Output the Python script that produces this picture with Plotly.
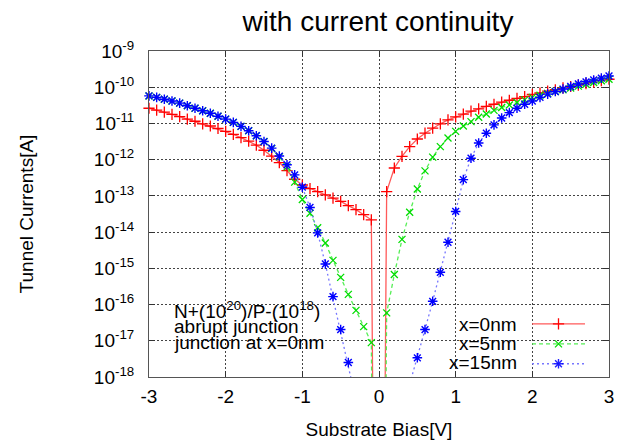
import numpy as np
import plotly.graph_objects as go

# Substrate bias [V]
bias = [round(-3.0 + 0.1 * i, 1) for i in range(61)]

# log10 of tunnel current [A] (values below 1e-18 are off-scale estimates)
log_i_0nm = [
    -10.58, -10.63, -10.69, -10.75, -10.81, -10.88, -10.94, -11.01, -11.07, -11.14,
    -11.22, -11.30, -11.39, -11.49, -11.60, -11.74, -11.90, -12.08, -12.30, -12.54,
    -12.70, -12.80, -12.88, -12.97, -13.06, -13.15, -13.27, -13.38, -13.52, -13.66,
    -40.0,
    -12.88, -12.23, -11.91, -11.64, -11.43, -11.27, -11.13, -11.01, -10.90, -10.82,
    -10.74, -10.66, -10.60, -10.53, -10.47, -10.41, -10.36, -10.31, -10.26, -10.20,
    -10.16, -10.11, -10.07, -10.02, -9.98, -9.94, -9.90, -9.86, -9.82, -9.78,
]
log_i_5nm = [
    -10.24, -10.28, -10.33, -10.38, -10.44, -10.51, -10.58, -10.65, -10.72, -10.80,
    -10.88, -10.97, -11.08, -11.20, -11.34, -11.50, -11.69, -11.92, -12.20, -12.62,
    -13.10, -13.48, -13.88, -14.30, -14.78, -15.25, -15.72, -16.16, -16.61, -17.05,
    -40.0,
    -16.23, -15.17, -14.20, -13.45, -12.81, -12.31, -11.93, -11.64, -11.40, -11.22,
    -11.07, -10.95, -10.83, -10.74, -10.64, -10.56, -10.49, -10.42, -10.35, -10.28,
    -10.22, -10.17, -10.12, -10.07, -10.02, -9.97, -9.92, -9.87, -9.82, -9.78,
]
log_i_15nm = [
    -10.24, -10.28, -10.33, -10.38, -10.44, -10.51, -10.58, -10.65, -10.72, -10.80,
    -10.88, -10.97, -11.08, -11.20, -11.34, -11.50, -11.68, -11.90, -12.14, -12.42,
    -12.76, -13.32, -14.02, -14.88, -15.78, -16.69, -17.60, -18.55, -19.60, -20.80,
    -22.0,
    -21.0, -19.9, -19.0, -18.2, -17.47, -16.69, -15.91, -15.11, -14.28, -13.43,
    -12.55, -11.96, -11.54, -11.27, -11.04, -10.85, -10.70, -10.58, -10.47, -10.38,
    -10.28, -10.19, -10.12, -10.05, -9.98, -9.91, -9.85, -9.80, -9.75, -9.69,
]

series_names = ["x=0nm", "x=5nm", "x=15nm"]
x_ticks = [-3, -2, -1, 0, 1, 2, 3]
y_exps = list(range(-18, -8))
y_ticktext = ["10<sup>%d</sup>" % e for e in y_exps]

FONT = "Liberation Sans, Arial, sans-serif"
styles = [
    dict(line=dict(color="#ff5a5a", width=1.3, dash="solid"),
         marker=dict(symbol="cross-thin-open", size=8, color="#ff0000", line=dict(color="#ff0000", width=1.3))),
    dict(line=dict(color="#55ee55", width=1.3, dash="4px,3px"),
         marker=dict(symbol="x-thin-open", size=7, color="#00dd00", line=dict(color="#00dd00", width=1.3))),
    dict(line=dict(color="#7777ff", width=1.3, dash="2px,3px"),
         marker=dict(symbol="asterisk-open", size=8, color="#0000ff", line=dict(color="#0000ff", width=1.4))),
]

fig = go.Figure()
for name, logs, st in zip(series_names, [log_i_0nm, log_i_5nm, log_i_15nm], styles):
    ys = [10.0 ** v for v in logs]
    op = [1.0 if -18.05 <= v <= -8.95 else 0.0 for v in logs]
    m = dict(st["marker"])
    m["opacity"] = op
    fig.add_trace(go.Scatter(
        x=bias, y=ys, mode="lines+markers", name=" ",
        line=st["line"], marker=m, cliponaxis=False, showlegend=True,
    ))

axis_common = dict(
    showline=True, linecolor="#555555", linewidth=1, mirror="ticks",
    ticks="inside", ticklen=6, tickcolor="#333333", automargin=False,
    showgrid=True, gridcolor="#444444", gridwidth=1, griddash="2px,2px",
    zeroline=False, tickfont=dict(family=FONT, size=19, color="#000000"),
)

fig.update_layout(
    width=628, height=440,
    margin=dict(l=149, r=19, t=51, b=63, autoexpand=False),
    paper_bgcolor="white", plot_bgcolor="white",
    font=dict(family=FONT, color="#000000"),
    title=dict(text="with current continuity", x=(378 / 628), xanchor="center",
               y=1 - 21 / 440, yanchor="middle", font=dict(family=FONT, size=28)),
    xaxis=dict(range=[-3, 3], tickvals=x_ticks, ticktext=[str(t) for t in x_ticks],
               title=dict(text="Substrate Bias[V]", font=dict(family=FONT, size=19), standoff=16),
               ticklabelstandoff=2, **axis_common),
    yaxis=dict(type="log", range=[-18, -9], tickvals=[10.0 ** e for e in y_exps], ticktext=y_ticktext,
               title=dict(text="Tunnel Currents[A]", font=dict(family=FONT, size=19), standoff=55),
               ticklabelstandoff=10, **axis_common),
    showlegend=True,
    legend=dict(x=(527 - 149) / 460, xanchor="left", y=(377 - 309) / 326, yanchor="top",
                bgcolor="rgba(0,0,0,0)", borderwidth=0, font=dict(family=FONT, size=13),
                itemwidth=53, tracegroupgap=0),
    shapes=[dict(type="rect", xref="paper", yref="paper", layer="between",
                 x0=(448 - 149) / 460, x1=(593 - 149) / 460, y0=(377 - 371) / 326, y1=(377 - 315) / 326,
                 fillcolor="white", line=dict(width=0))],
)

# legend labels (gnuplot style: text to the left of sample)
for i, name in enumerate(series_names):
    fig.add_annotation(text=name, xref="paper", yref="paper", x=(519 - 149) / 460,
                       y=(377 - (324 + 19.3 * i)) / 326, xanchor="right", yanchor="middle",
                       showarrow=False, font=dict(family=FONT, size=19))

# junction description text
info_lines = ["N+(10<sup>20</sup>)/P-(10<sup>18</sup>)", "abrupt junction", "junction at x=0nm"]
for i, t in enumerate(info_lines):
    fig.add_annotation(text=t, xref="paper", yref="paper", x=(172 - 149) / 460,
                       y=(377 - (310 + 16 * i)) / 326, xanchor="left", yanchor="middle",
                       showarrow=False, font=dict(family=FONT, size=19))

fig.write_html("out.html")
